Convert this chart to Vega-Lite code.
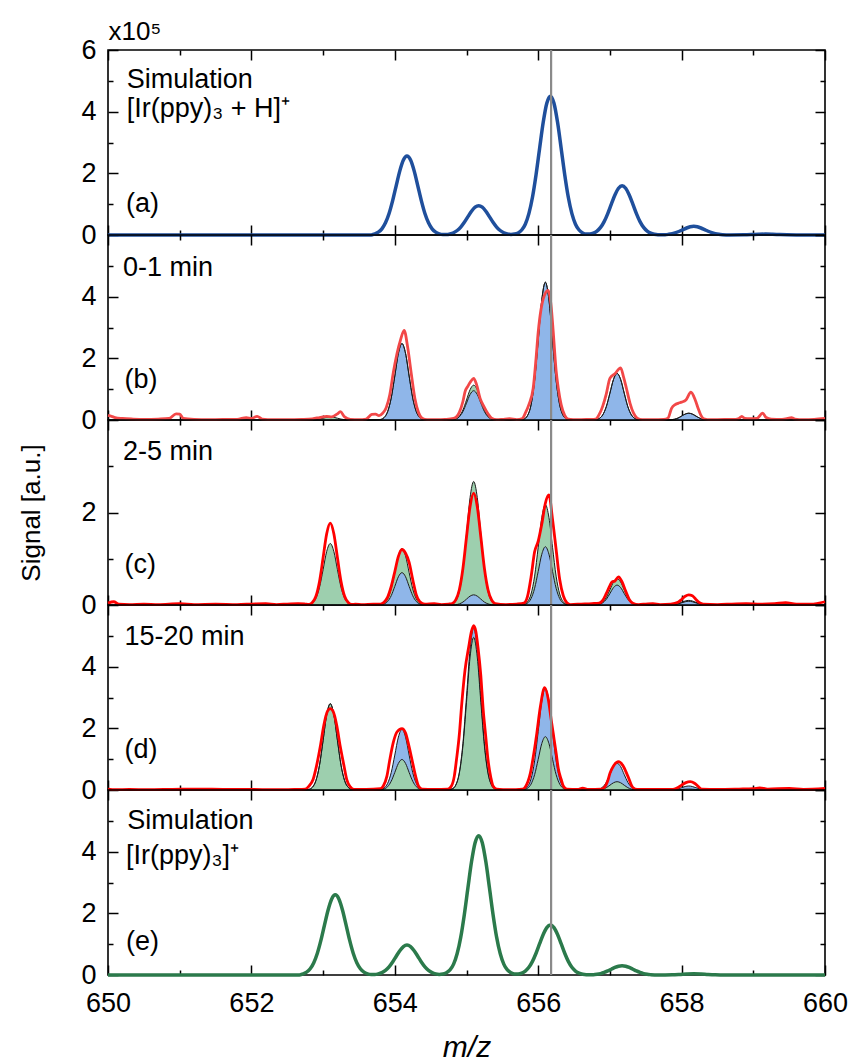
{
"$schema": "https://vega.github.io/schema/vega-lite/v6.json",
"background": "white",
"padding": {"left": 17, "top": 17, "right": 5, "bottom": 0},
"bounds": "flush",
"spacing": 0,
"config": {
  "font": "Liberation Sans",
  "view": {"stroke": "black", "strokeWidth": 1.6},
  "text": {"font": "Liberation Sans", "fontSize": 27, "color": "black"},
  "axis": {"domain": false, "grid": false, "ticks": true, "tickColor": "black", "tickWidth": 1.5, "labelFont": "Liberation Sans", "labelFontSize": 27, "labelColor": "black", "labelFlush": false, "labelOverlap": false, "titleFont": "Liberation Sans", "titleColor": "black", "titleFontWeight": "normal"}
},
"datasets": {
  "dummy": [{"mz": 650, "v": 0}],
  "gray": [{"mz": 656.18}],
  "textA": [{"label": "Simulation", "mz": 650.26, "v": 5.04}, {"label": "[Ir(ppy)₃ + H]⁺", "mz": 650.26, "v": 4.08}, {"label": "(a)", "mz": 650.25, "v": 1.0}],
  "textB": [{"label": "0-1 min", "mz": 650.21, "v": 4.92}, {"label": "(b)", "mz": 650.23, "v": 1.31}],
  "textC": [{"label": "2-5 min", "mz": 650.21, "v": 3.3}, {"label": "(c)", "mz": 650.23, "v": 0.87}],
  "textD": [{"label": "15-20 min", "mz": 650.23, "v": 4.95}, {"label": "(d)", "mz": 650.23, "v": 1.31}],
  "textE": [{"label": "Simulation", "mz": 650.27, "v": 5.0}, {"label": "[Ir(ppy)₃]⁺", "mz": 650.25, "v": 3.87}, {"label": "(e)", "mz": 650.25, "v": 1.07}],
  "simA": [
    {"mz":650,"v":0},{"mz":653.6,"v":0},{"mz":653.67,"v":0},{"mz":653.72,"v":0.038},{"mz":653.77,"v":0.092},{"mz":653.82,"v":0.2},{"mz":653.87,"v":0.394},{"mz":653.92,"v":0.696},{"mz":653.97,"v":1.114},{"mz":654.02,"v":1.603},{"mz":654.07,"v":2.079},{"mz":654.12,"v":2.429},{"mz":654.17,"v":2.56},{"mz":654.22,"v":2.429},{"mz":654.27,"v":2.079},{"mz":654.32,"v":1.603},{"mz":654.37,"v":1.114},{"mz":654.42,"v":0.696},{"mz":654.47,"v":0.394},{"mz":654.52,"v":0.2},{"mz":654.57,"v":0.092},{"mz":654.62,"v":0.038},{"mz":654.67,"v":0.015},
    {"mz":654.72,"v":0.014},{"mz":654.77,"v":0.034},{"mz":654.82,"v":0.074},{"mz":654.87,"v":0.146},{"mz":654.92,"v":0.258},{"mz":654.97,"v":0.413},{"mz":655.02,"v":0.595},{"mz":655.07,"v":0.771},{"mz":655.12,"v":0.902},{"mz":655.17,"v":0.95},{"mz":655.22,"v":0.902},{"mz":655.27,"v":0.771},{"mz":655.32,"v":0.595},{"mz":655.37,"v":0.413},{"mz":655.42,"v":0.258},{"mz":655.47,"v":0.146},{"mz":655.52,"v":0.074},{"mz":655.57,"v":0.034},{"mz":655.62,"v":0.02},{"mz":655.67,"v":0.03},
    {"mz":655.72,"v":0.068},{"mz":655.77,"v":0.162},{"mz":655.82,"v":0.351},{"mz":655.87,"v":0.693},{"mz":655.92,"v":1.224},{"mz":655.97,"v":1.958},{"mz":656.02,"v":2.817},{"mz":656.07,"v":3.654},{"mz":656.12,"v":4.271},{"mz":656.17,"v":4.5},{"mz":656.22,"v":4.271},{"mz":656.27,"v":3.654},{"mz":656.32,"v":2.817},{"mz":656.37,"v":1.958},{"mz":656.42,"v":1.224},{"mz":656.47,"v":0.693},{"mz":656.52,"v":0.351},{"mz":656.57,"v":0.162},{"mz":656.62,"v":0.068},{"mz":656.67,"v":0.03},
    {"mz":656.72,"v":0.03},{"mz":656.77,"v":0.058},{"mz":656.82,"v":0.125},{"mz":656.87,"v":0.246},{"mz":656.92,"v":0.435},{"mz":656.97,"v":0.696},{"mz":657.02,"v":1.002},{"mz":657.07,"v":1.299},{"mz":657.12,"v":1.518},{"mz":657.17,"v":1.6},{"mz":657.22,"v":1.518},{"mz":657.27,"v":1.299},{"mz":657.32,"v":1.002},{"mz":657.37,"v":0.696},{"mz":657.42,"v":0.435},{"mz":657.47,"v":0.246},{"mz":657.52,"v":0.125},{"mz":657.57,"v":0.058},{"mz":657.62,"v":0.024},{"mz":657.67,"v":0.01},
    {"mz":657.77,"v":0.01},{"mz":657.82,"v":0.022},{"mz":657.87,"v":0.043},{"mz":657.92,"v":0.076},{"mz":657.97,"v":0.122},{"mz":658.02,"v":0.175},{"mz":658.07,"v":0.227},{"mz":658.12,"v":0.266},{"mz":658.17,"v":0.28},{"mz":658.22,"v":0.266},{"mz":658.27,"v":0.227},{"mz":658.32,"v":0.175},{"mz":658.37,"v":0.122},{"mz":658.42,"v":0.076},{"mz":658.47,"v":0.043},{"mz":658.52,"v":0.022},{"mz":658.57,"v":0.01},{"mz":658.67,"v":0},
    {"mz":658.87,"v":0.005},{"mz":658.97,"v":0.013},{"mz":659.07,"v":0.024},{"mz":659.17,"v":0.03},{"mz":659.27,"v":0.024},{"mz":659.37,"v":0.013},{"mz":659.47,"v":0.005},{"mz":659.6,"v":0},{"mz":660,"v":0}
  ],
  "simE": [
    {"mz":650,"v":0},{"mz":652.6,"v":0},{"mz":652.67,"v":0},{"mz":652.72,"v":0.039},{"mz":652.77,"v":0.094},{"mz":652.82,"v":0.203},{"mz":652.87,"v":0.4},{"mz":652.92,"v":0.707},{"mz":652.97,"v":1.131},{"mz":653.02,"v":1.628},{"mz":653.07,"v":2.111},{"mz":653.12,"v":2.467},{"mz":653.17,"v":2.6},{"mz":653.22,"v":2.467},{"mz":653.27,"v":2.111},{"mz":653.32,"v":1.628},{"mz":653.37,"v":1.131},{"mz":653.42,"v":0.707},{"mz":653.47,"v":0.4},{"mz":653.52,"v":0.203},{"mz":653.57,"v":0.094},{"mz":653.62,"v":0.039},{"mz":653.67,"v":0.015},
    {"mz":653.72,"v":0.015},{"mz":653.77,"v":0.035},{"mz":653.82,"v":0.076},{"mz":653.87,"v":0.149},{"mz":653.92,"v":0.264},{"mz":653.97,"v":0.422},{"mz":654.02,"v":0.607},{"mz":654.07,"v":0.788},{"mz":654.12,"v":0.921},{"mz":654.17,"v":0.97},{"mz":654.22,"v":0.921},{"mz":654.27,"v":0.788},{"mz":654.32,"v":0.607},{"mz":654.37,"v":0.422},{"mz":654.42,"v":0.264},{"mz":654.47,"v":0.149},{"mz":654.52,"v":0.076},{"mz":654.57,"v":0.035},{"mz":654.62,"v":0.02},{"mz":654.67,"v":0.03},
    {"mz":654.72,"v":0.075},{"mz":654.77,"v":0.163},{"mz":654.82,"v":0.353},{"mz":654.87,"v":0.696},{"mz":654.92,"v":1.229},{"mz":654.97,"v":1.966},{"mz":655.02,"v":2.83},{"mz":655.07,"v":3.67},{"mz":655.12,"v":4.289},{"mz":655.17,"v":4.52},{"mz":655.22,"v":4.289},{"mz":655.27,"v":3.67},{"mz":655.32,"v":2.83},{"mz":655.37,"v":1.966},{"mz":655.42,"v":1.229},{"mz":655.47,"v":0.696},{"mz":655.52,"v":0.353},{"mz":655.57,"v":0.163},{"mz":655.62,"v":0.075},{"mz":655.67,"v":0.03},
    {"mz":655.72,"v":0.03},{"mz":655.77,"v":0.058},{"mz":655.82,"v":0.126},{"mz":655.87,"v":0.249},{"mz":655.92,"v":0.441},{"mz":655.97,"v":0.705},{"mz":656.02,"v":1.014},{"mz":656.07,"v":1.315},{"mz":656.12,"v":1.537},{"mz":656.17,"v":1.62},{"mz":656.22,"v":1.537},{"mz":656.27,"v":1.315},{"mz":656.32,"v":1.014},{"mz":656.37,"v":0.705},{"mz":656.42,"v":0.441},{"mz":656.47,"v":0.249},{"mz":656.52,"v":0.126},{"mz":656.57,"v":0.058},{"mz":656.62,"v":0.024},{"mz":656.67,"v":0.01},
    {"mz":656.77,"v":0.011},{"mz":656.82,"v":0.023},{"mz":656.87,"v":0.046},{"mz":656.92,"v":0.082},{"mz":656.97,"v":0.131},{"mz":657.02,"v":0.188},{"mz":657.07,"v":0.244},{"mz":657.12,"v":0.285},{"mz":657.17,"v":0.3},{"mz":657.22,"v":0.285},{"mz":657.27,"v":0.244},{"mz":657.32,"v":0.188},{"mz":657.37,"v":0.131},{"mz":657.42,"v":0.082},{"mz":657.47,"v":0.046},{"mz":657.52,"v":0.023},{"mz":657.57,"v":0.011},{"mz":657.67,"v":0},
    {"mz":657.87,"v":0.006},{"mz":657.97,"v":0.017},{"mz":658.07,"v":0.032},{"mz":658.17,"v":0.04},{"mz":658.27,"v":0.032},{"mz":658.37,"v":0.017},{"mz":658.47,"v":0.006},{"mz":658.6,"v":0},{"mz":660,"v":0}
  ],
  "fillB": [
    {"mz":652.7,"lo":0,"hi":0},{"mz":652.8,"lo":0,"hi":0.001},{"mz":652.85,"lo":0,"hi":0.003},{"mz":652.9,"lo":0,"hi":0.011},{"mz":652.95,"lo":0,"hi":0.029},{"mz":653.0,"lo":0,"hi":0.058},{"mz":653.05,"lo":0,"hi":0.087},{"mz":653.1,"lo":0,"hi":0.1},{"mz":653.15,"lo":0,"hi":0.087},{"mz":653.2,"lo":0,"hi":0.058},{"mz":653.25,"lo":0,"hi":0.029},{"mz":653.3,"lo":0,"hi":0.011},{"mz":653.35,"lo":0,"hi":0.003},{"mz":653.4,"lo":0,"hi":0.001},{"mz":653.5,"lo":0,"hi":0},
    {"mz":653.7,"lo":0,"hi":0},{"mz":653.8,"lo":0.017,"hi":0.017},{"mz":653.85,"lo":0.077,"hi":0.077},{"mz":653.9,"lo":0.27,"hi":0.27},{"mz":653.95,"lo":0.712,"hi":0.712},{"mz":654.0,"lo":1.426,"hi":1.426},{"mz":654.05,"lo":2.16,"hi":2.16},{"mz":654.1,"lo":2.48,"hi":2.48},{"mz":654.15,"lo":2.16,"hi":2.16},{"mz":654.2,"lo":1.426,"hi":1.426},{"mz":654.25,"lo":0.712,"hi":0.712},{"mz":654.3,"lo":0.27,"hi":0.27},{"mz":654.35,"lo":0.077,"hi":0.077},{"mz":654.4,"lo":0.017,"hi":0.017},{"mz":654.5,"lo":0,"hi":0},
    {"mz":654.7,"lo":0,"hi":0},{"mz":654.8,"lo":0.007,"hi":0.008},{"mz":654.85,"lo":0.029,"hi":0.035},{"mz":654.9,"lo":0.104,"hi":0.123},{"mz":654.95,"lo":0.273,"hi":0.324},{"mz":655.0,"lo":0.546,"hi":0.65},{"mz":655.05,"lo":0.827,"hi":0.984},{"mz":655.1,"lo":0.95,"hi":1.13},{"mz":655.15,"lo":0.827,"hi":0.984},{"mz":655.2,"lo":0.546,"hi":0.65},{"mz":655.25,"lo":0.273,"hi":0.324},{"mz":655.3,"lo":0.104,"hi":0.123},{"mz":655.35,"lo":0.029,"hi":0.035},{"mz":655.4,"lo":0.007,"hi":0.008},{"mz":655.5,"lo":0,"hi":0},
    {"mz":655.7,"lo":0,"hi":0},{"mz":655.8,"lo":0.031,"hi":0.031},{"mz":655.85,"lo":0.139,"hi":0.139},{"mz":655.9,"lo":0.487,"hi":0.487},{"mz":655.95,"lo":1.283,"hi":1.283},{"mz":656.0,"lo":2.57,"hi":2.57},{"mz":656.05,"lo":3.893,"hi":3.893},{"mz":656.1,"lo":4.47,"hi":4.47},{"mz":656.15,"lo":3.893,"hi":3.893},{"mz":656.2,"lo":2.57,"hi":2.57},{"mz":656.25,"lo":1.283,"hi":1.283},{"mz":656.3,"lo":0.487,"hi":0.487},{"mz":656.35,"lo":0.139,"hi":0.139},{"mz":656.4,"lo":0.031,"hi":0.031},{"mz":656.5,"lo":0,"hi":0},
    {"mz":656.7,"lo":0,"hi":0},{"mz":656.8,"lo":0.011,"hi":0.011},{"mz":656.85,"lo":0.047,"hi":0.047},{"mz":656.9,"lo":0.165,"hi":0.165},{"mz":656.95,"lo":0.433,"hi":0.433},{"mz":657.0,"lo":0.868,"hi":0.868},{"mz":657.05,"lo":1.315,"hi":1.315},{"mz":657.1,"lo":1.51,"hi":1.51},{"mz":657.15,"lo":1.315,"hi":1.315},{"mz":657.2,"lo":0.868,"hi":0.868},{"mz":657.25,"lo":0.433,"hi":0.433},{"mz":657.3,"lo":0.165,"hi":0.165},{"mz":657.35,"lo":0.047,"hi":0.047},{"mz":657.4,"lo":0.011,"hi":0.011},{"mz":657.5,"lo":0,"hi":0},
    {"mz":657.7,"lo":0,"hi":0},{"mz":657.8,"lo":0.002,"hi":0.002},{"mz":657.85,"lo":0.007,"hi":0.007},{"mz":657.9,"lo":0.024,"hi":0.024},{"mz":657.95,"lo":0.063,"hi":0.063},{"mz":658.0,"lo":0.127,"hi":0.127},{"mz":658.05,"lo":0.192,"hi":0.192},{"mz":658.1,"lo":0.22,"hi":0.22},{"mz":658.15,"lo":0.192,"hi":0.192},{"mz":658.2,"lo":0.127,"hi":0.127},{"mz":658.25,"lo":0.063,"hi":0.063},{"mz":658.3,"lo":0.024,"hi":0.024},{"mz":658.35,"lo":0.007,"hi":0.007},{"mz":658.4,"lo":0.002,"hi":0.002},{"mz":658.5,"lo":0,"hi":0}
  ],
  "fillC": [
    {"mz":652.7,"lo":0,"hi":0},{"mz":652.8,"lo":0,"hi":0.009},{"mz":652.85,"lo":0,"hi":0.041},{"mz":652.9,"lo":0,"hi":0.145},{"mz":652.95,"lo":0,"hi":0.382},{"mz":653.0,"lo":0,"hi":0.765},{"mz":653.05,"lo":0,"hi":1.158},{"mz":653.1,"lo":0,"hi":1.33},{"mz":653.15,"lo":0,"hi":1.158},{"mz":653.2,"lo":0,"hi":0.765},{"mz":653.25,"lo":0,"hi":0.382},{"mz":653.3,"lo":0,"hi":0.145},{"mz":653.35,"lo":0,"hi":0.041},{"mz":653.4,"lo":0,"hi":0.009},{"mz":653.5,"lo":0,"hi":0},
    {"mz":653.7,"lo":0,"hi":0},{"mz":653.8,"lo":0.005,"hi":0.009},{"mz":653.85,"lo":0.022,"hi":0.038},{"mz":653.9,"lo":0.076,"hi":0.133},{"mz":653.95,"lo":0.201,"hi":0.35},{"mz":654.0,"lo":0.403,"hi":0.702},{"mz":654.05,"lo":0.61,"hi":1.063},{"mz":654.1,"lo":0.7,"hi":1.22},{"mz":654.15,"lo":0.61,"hi":1.063},{"mz":654.2,"lo":0.403,"hi":0.702},{"mz":654.25,"lo":0.201,"hi":0.35},{"mz":654.3,"lo":0.076,"hi":0.133},{"mz":654.35,"lo":0.022,"hi":0.038},{"mz":654.4,"lo":0.005,"hi":0.009},{"mz":654.5,"lo":0,"hi":0},
    {"mz":654.7,"lo":0,"hi":0},{"mz":654.8,"lo":0.002,"hi":0.019},{"mz":654.85,"lo":0.007,"hi":0.083},{"mz":654.9,"lo":0.024,"hi":0.291},{"mz":654.95,"lo":0.063,"hi":0.766},{"mz":655.0,"lo":0.127,"hi":1.535},{"mz":655.05,"lo":0.192,"hi":2.326},{"mz":655.1,"lo":0.22,"hi":2.67},{"mz":655.15,"lo":0.192,"hi":2.326},{"mz":655.2,"lo":0.127,"hi":1.535},{"mz":655.25,"lo":0.063,"hi":0.766},{"mz":655.3,"lo":0.024,"hi":0.291},{"mz":655.35,"lo":0.007,"hi":0.083},{"mz":655.4,"lo":0.002,"hi":0.019},{"mz":655.5,"lo":0,"hi":0},
    {"mz":655.7,"lo":0,"hi":0},{"mz":655.8,"lo":0.009,"hi":0.015},{"mz":655.85,"lo":0.039,"hi":0.067},{"mz":655.9,"lo":0.137,"hi":0.237},{"mz":655.95,"lo":0.362,"hi":0.623},{"mz":656.0,"lo":0.725,"hi":1.248},{"mz":656.05,"lo":1.097,"hi":1.89},{"mz":656.1,"lo":1.26,"hi":2.17},{"mz":656.15,"lo":1.097,"hi":1.89},{"mz":656.2,"lo":0.725,"hi":1.248},{"mz":656.25,"lo":0.362,"hi":0.623},{"mz":656.3,"lo":0.137,"hi":0.237},{"mz":656.35,"lo":0.039,"hi":0.067},{"mz":656.4,"lo":0.009,"hi":0.015},{"mz":656.5,"lo":0,"hi":0},
    {"mz":656.7,"lo":0,"hi":0},{"mz":656.8,"lo":0.003,"hi":0.004},{"mz":656.85,"lo":0.013,"hi":0.018},{"mz":656.9,"lo":0.047,"hi":0.062},{"mz":656.95,"lo":0.123,"hi":0.164},{"mz":657.0,"lo":0.247,"hi":0.328},{"mz":657.05,"lo":0.375,"hi":0.496},{"mz":657.1,"lo":0.43,"hi":0.57},{"mz":657.15,"lo":0.375,"hi":0.496},{"mz":657.2,"lo":0.247,"hi":0.328},{"mz":657.25,"lo":0.123,"hi":0.164},{"mz":657.3,"lo":0.047,"hi":0.062},{"mz":657.35,"lo":0.013,"hi":0.018},{"mz":657.4,"lo":0.003,"hi":0.004},{"mz":657.5,"lo":0,"hi":0},
    {"mz":657.7,"lo":0,"hi":0},{"mz":657.8,"lo":0.001,"hi":0.001},{"mz":657.85,"lo":0.002,"hi":0.003},{"mz":657.9,"lo":0.009,"hi":0.011},{"mz":657.95,"lo":0.023,"hi":0.029},{"mz":658.0,"lo":0.046,"hi":0.058},{"mz":658.05,"lo":0.07,"hi":0.087},{"mz":658.1,"lo":0.08,"hi":0.1},{"mz":658.15,"lo":0.07,"hi":0.087},{"mz":658.2,"lo":0.046,"hi":0.058},{"mz":658.25,"lo":0.023,"hi":0.029},{"mz":658.3,"lo":0.009,"hi":0.011},{"mz":658.35,"lo":0.002,"hi":0.003},{"mz":658.4,"lo":0.001,"hi":0.001},{"mz":658.5,"lo":0,"hi":0}
  ],
  "fillD": [
    {"mz":652.7,"lo":0,"hi":0},{"mz":652.8,"lo":0.02,"hi":0.02},{"mz":652.85,"lo":0.087,"hi":0.087},{"mz":652.9,"lo":0.305,"hi":0.305},{"mz":652.95,"lo":0.804,"hi":0.804},{"mz":653.0,"lo":1.61,"hi":1.61},{"mz":653.05,"lo":2.439,"hi":2.439},{"mz":653.1,"lo":2.8,"hi":2.8},{"mz":653.15,"lo":2.439,"hi":2.439},{"mz":653.2,"lo":1.61,"hi":1.61},{"mz":653.25,"lo":0.804,"hi":0.804},{"mz":653.3,"lo":0.305,"hi":0.305},{"mz":653.35,"lo":0.087,"hi":0.087},{"mz":653.4,"lo":0.02,"hi":0.02},{"mz":653.5,"lo":0,"hi":0},
    {"mz":653.7,"lo":0,"hi":0},{"mz":653.8,"lo":0.007,"hi":0.014},{"mz":653.85,"lo":0.031,"hi":0.061},{"mz":653.9,"lo":0.108,"hi":0.215},{"mz":653.95,"lo":0.284,"hi":0.565},{"mz":654.0,"lo":0.569,"hi":1.133},{"mz":654.05,"lo":0.862,"hi":1.716},{"mz":654.1,"lo":0.99,"hi":1.97},{"mz":654.15,"lo":0.862,"hi":1.716},{"mz":654.2,"lo":0.569,"hi":1.133},{"mz":654.25,"lo":0.284,"hi":0.565},{"mz":654.3,"lo":0.108,"hi":0.215},{"mz":654.35,"lo":0.031,"hi":0.061},{"mz":654.4,"lo":0.007,"hi":0.014},{"mz":654.5,"lo":0,"hi":0},
    {"mz":654.7,"lo":0,"hi":0},{"mz":654.8,"lo":0.035,"hi":0.037},{"mz":654.85,"lo":0.153,"hi":0.163},{"mz":654.9,"lo":0.54,"hi":0.572},{"mz":654.95,"lo":1.421,"hi":1.507},{"mz":655.0,"lo":2.846,"hi":3.019},{"mz":655.05,"lo":4.311,"hi":4.573},{"mz":655.1,"lo":4.95,"hi":5.25},{"mz":655.15,"lo":4.311,"hi":4.573},{"mz":655.2,"lo":2.846,"hi":3.019},{"mz":655.25,"lo":1.421,"hi":1.507},{"mz":655.3,"lo":0.54,"hi":0.572},{"mz":655.35,"lo":0.153,"hi":0.163},{"mz":655.4,"lo":0.035,"hi":0.037},{"mz":655.5,"lo":0,"hi":0},
    {"mz":655.7,"lo":0,"hi":0},{"mz":655.8,"lo":0.012,"hi":0.023},{"mz":655.85,"lo":0.054,"hi":0.102},{"mz":655.9,"lo":0.189,"hi":0.36},{"mz":655.95,"lo":0.497,"hi":0.947},{"mz":656.0,"lo":0.995,"hi":1.898},{"mz":656.05,"lo":1.507,"hi":2.874},{"mz":656.1,"lo":1.73,"hi":3.3},{"mz":656.15,"lo":1.507,"hi":2.874},{"mz":656.2,"lo":0.995,"hi":1.898},{"mz":656.25,"lo":0.497,"hi":0.947},{"mz":656.3,"lo":0.189,"hi":0.36},{"mz":656.35,"lo":0.054,"hi":0.102},{"mz":656.4,"lo":0.012,"hi":0.023},{"mz":656.5,"lo":0,"hi":0},
    {"mz":656.7,"lo":0,"hi":0},{"mz":656.8,"lo":0.002,"hi":0.006},{"mz":656.85,"lo":0.008,"hi":0.027},{"mz":656.9,"lo":0.029,"hi":0.095},{"mz":656.95,"lo":0.077,"hi":0.25},{"mz":657.0,"lo":0.155,"hi":0.5},{"mz":657.05,"lo":0.235,"hi":0.758},{"mz":657.1,"lo":0.27,"hi":0.87},{"mz":657.15,"lo":0.235,"hi":0.758},{"mz":657.2,"lo":0.155,"hi":0.5},{"mz":657.25,"lo":0.077,"hi":0.25},{"mz":657.3,"lo":0.029,"hi":0.095},{"mz":657.35,"lo":0.008,"hi":0.027},{"mz":657.4,"lo":0.002,"hi":0.006},{"mz":657.5,"lo":0,"hi":0},
    {"mz":657.7,"lo":0,"hi":0},{"mz":657.8,"lo":0,"hi":0.001},{"mz":657.85,"lo":0.001,"hi":0.004},{"mz":657.9,"lo":0.003,"hi":0.014},{"mz":657.95,"lo":0.009,"hi":0.037},{"mz":658.0,"lo":0.017,"hi":0.075},{"mz":658.05,"lo":0.026,"hi":0.113},{"mz":658.1,"lo":0.03,"hi":0.13},{"mz":658.15,"lo":0.026,"hi":0.113},{"mz":658.2,"lo":0.017,"hi":0.075},{"mz":658.25,"lo":0.009,"hi":0.037},{"mz":658.3,"lo":0.003,"hi":0.014},{"mz":658.35,"lo":0.001,"hi":0.004},{"mz":658.4,"lo":0,"hi":0.001},{"mz":658.5,"lo":0,"hi":0}
  ],
  "redB": [
    {"mz":650.0,"v":0.15},{"mz":650.05,"v":0.12},{"mz":650.1,"v":0.08},{"mz":650.2,"v":0.05},{"mz":650.35,"v":0.03},{"mz":650.5,"v":0.02},{"mz":650.7,"v":0.03},{"mz":650.85,"v":0.05},{"mz":650.95,"v":0.2},{"mz":651.0,"v":0.19},{"mz":651.05,"v":0.05},{"mz":651.2,"v":0.02},{"mz":651.4,"v":0.01},{"mz":651.6,"v":0.02},{"mz":651.8,"v":0.02},{"mz":651.93,"v":0.08},{"mz":652.0,"v":0.05},{"mz":652.08,"v":0.12},{"mz":652.15,"v":0.03},{"mz":652.3,"v":0.01},{"mz":652.5,"v":0.01},{"mz":652.7,"v":0.02},{"mz":652.85,"v":0.04},{"mz":652.95,"v":0.08},{"mz":653.05,"v":0.12},{"mz":653.12,"v":0.1},{"mz":653.2,"v":0.2},{"mz":653.24,"v":0.27},{"mz":653.3,"v":0.1},{"mz":653.38,"v":0.02},{"mz":653.5,"v":0.01},{"mz":653.6,"v":0.03},{"mz":653.68,"v":0.18},{"mz":653.73,"v":0.19},{"mz":653.78,"v":0.14},{"mz":653.83,"v":0.22},{"mz":653.88,"v":0.4},{"mz":653.93,"v":0.82},{"mz":653.98,"v":1.55},{"mz":654.03,"v":2.15},{"mz":654.08,"v":2.6},{"mz":654.13,"v":2.91},{"mz":654.18,"v":2.35},{"mz":654.23,"v":1.5},{"mz":654.28,"v":0.7},{"mz":654.33,"v":0.25},{"mz":654.38,"v":0.06},{"mz":654.45,"v":0.01},{"mz":654.6,"v":0.01},{"mz":654.7,"v":0.02},{"mz":654.82,"v":0.05},{"mz":654.9,"v":0.25},{"mz":654.95,"v":0.6},{"mz":654.98,"v":0.92},{"mz":655.02,"v":1.1},{"mz":655.06,"v":1.25},{"mz":655.1,"v":1.35},{"mz":655.14,"v":1.15},{"mz":655.19,"v":0.7},{"mz":655.24,"v":0.45},{"mz":655.3,"v":0.2},{"mz":655.35,"v":0.06},{"mz":655.42,"v":0.01},{"mz":655.5,"v":0.02},{"mz":655.6,"v":0.04},{"mz":655.7,"v":0.01},{"mz":655.78,"v":0.05},{"mz":655.82,"v":0.22},{"mz":655.87,"v":0.5},{"mz":655.93,"v":1.03},{"mz":655.97,"v":2.0},{"mz":656.0,"v":2.85},{"mz":656.04,"v":3.6},{"mz":656.07,"v":3.93},{"mz":656.14,"v":4.2},{"mz":656.18,"v":3.7},{"mz":656.21,"v":2.85},{"mz":656.25,"v":1.6},{"mz":656.28,"v":1.03},{"mz":656.32,"v":0.5},{"mz":656.37,"v":0.15},{"mz":656.42,"v":0.03},{"mz":656.55,"v":0.01},{"mz":656.7,"v":0.02},{"mz":656.8,"v":0.03},{"mz":656.86,"v":0.22},{"mz":656.9,"v":0.45},{"mz":656.95,"v":0.85},{"mz":657.0,"v":1.35},{"mz":657.07,"v":1.5},{"mz":657.15,"v":1.69},{"mz":657.19,"v":1.4},{"mz":657.23,"v":1.03},{"mz":657.28,"v":0.55},{"mz":657.33,"v":0.22},{"mz":657.38,"v":0.06},{"mz":657.45,"v":0.01},{"mz":657.6,"v":0.01},{"mz":657.75,"v":0.02},{"mz":657.81,"v":0.06},{"mz":657.86,"v":0.38},{"mz":657.91,"v":0.5},{"mz":657.95,"v":0.54},{"mz":658.0,"v":0.58},{"mz":658.06,"v":0.65},{"mz":658.13,"v":0.9},{"mz":658.19,"v":0.65},{"mz":658.23,"v":0.38},{"mz":658.27,"v":0.15},{"mz":658.31,"v":0.04},{"mz":658.4,"v":0.01},{"mz":658.6,"v":0.02},{"mz":658.75,"v":0.02},{"mz":658.8,"v":0.05},{"mz":658.84,"v":0.12},{"mz":658.88,"v":0.05},{"mz":658.95,"v":0.04},{"mz":659.05,"v":0.05},{"mz":659.13,"v":0.22},{"mz":659.18,"v":0.08},{"mz":659.25,"v":0.03},{"mz":659.4,"v":0.02},{"mz":659.48,"v":0.05},{"mz":659.53,"v":0.08},{"mz":659.58,"v":0.03},{"mz":659.7,"v":0.01},{"mz":659.85,"v":0.02},{"mz":660.0,"v":0.05}
  ],
  "redC": [
    {"mz":650.0,"v":0.04},{"mz":650.08,"v":0.07},{"mz":650.15,"v":0.02},{"mz":650.3,"v":0.01},{"mz":650.5,"v":0.02},{"mz":650.7,"v":0.01},{"mz":651.0,"v":0.03},{"mz":651.2,"v":0.01},{"mz":651.5,"v":0.02},{"mz":651.8,"v":0.01},{"mz":652.0,"v":0.02},{"mz":652.2,"v":0.03},{"mz":652.35,"v":0.01},{"mz":652.5,"v":0.02},{"mz":652.65,"v":0.03},{"mz":652.75,"v":0.02},{"mz":652.8,"v":0.012},{"mz":652.85,"v":0.055},{"mz":652.9,"v":0.19},{"mz":652.95,"v":0.51},{"mz":653.0,"v":1.02},{"mz":653.05,"v":1.54},{"mz":653.1,"v":1.77},{"mz":653.15,"v":1.54},{"mz":653.2,"v":1.02},{"mz":653.25,"v":0.51},{"mz":653.3,"v":0.19},{"mz":653.35,"v":0.055},{"mz":653.4,"v":0.012},{"mz":653.45,"v":0.02},{"mz":653.55,"v":0.01},{"mz":653.7,"v":0.02},{"mz":653.8,"v":0.02},{"mz":653.85,"v":0.06},{"mz":653.9,"v":0.17},{"mz":653.95,"v":0.4},{"mz":654.0,"v":0.72},{"mz":654.05,"v":1.05},{"mz":654.1,"v":1.2},{"mz":654.15,"v":1.12},{"mz":654.2,"v":0.92},{"mz":654.25,"v":0.55},{"mz":654.3,"v":0.22},{"mz":654.35,"v":0.07},{"mz":654.42,"v":0.02},{"mz":654.55,"v":0.03},{"mz":654.65,"v":0.01},{"mz":654.75,"v":0.02},{"mz":654.8,"v":0.03},{"mz":654.85,"v":0.11},{"mz":654.9,"v":0.33},{"mz":654.95,"v":0.79},{"mz":655.0,"v":1.47},{"mz":655.05,"v":2.13},{"mz":655.1,"v":2.42},{"mz":655.15,"v":2.13},{"mz":655.2,"v":1.47},{"mz":655.25,"v":0.79},{"mz":655.3,"v":0.33},{"mz":655.35,"v":0.11},{"mz":655.4,"v":0.03},{"mz":655.55,"v":0.01},{"mz":655.7,"v":0.02},{"mz":655.8,"v":0.04},{"mz":655.85,"v":0.18},{"mz":655.9,"v":0.6},{"mz":655.95,"v":1.15},{"mz":656.0,"v":1.38},{"mz":656.05,"v":1.75},{"mz":656.1,"v":2.2},{"mz":656.15,"v":2.38},{"mz":656.2,"v":1.85},{"mz":656.25,"v":1.2},{"mz":656.3,"v":0.55},{"mz":656.35,"v":0.2},{"mz":656.4,"v":0.05},{"mz":656.45,"v":0.01},{"mz":656.6,"v":0.02},{"mz":656.75,"v":0.03},{"mz":656.85,"v":0.04},{"mz":656.9,"v":0.1},{"mz":656.95,"v":0.25},{"mz":657.0,"v":0.42},{"mz":657.03,"v":0.5},{"mz":657.07,"v":0.52},{"mz":657.12,"v":0.61},{"mz":657.17,"v":0.5},{"mz":657.22,"v":0.3},{"mz":657.27,"v":0.12},{"mz":657.32,"v":0.04},{"mz":657.4,"v":0.01},{"mz":657.5,"v":0.02},{"mz":657.6,"v":0.03},{"mz":657.7,"v":0.01},{"mz":657.85,"v":0.02},{"mz":657.95,"v":0.06},{"mz":658.0,"v":0.12},{"mz":658.05,"v":0.19},{"mz":658.1,"v":0.22},{"mz":658.15,"v":0.2},{"mz":658.2,"v":0.12},{"mz":658.25,"v":0.05},{"mz":658.3,"v":0.02},{"mz":658.5,"v":0.01},{"mz":658.7,"v":0.02},{"mz":658.9,"v":0.03},{"mz":659.1,"v":0.02},{"mz":659.3,"v":0.03},{"mz":659.45,"v":0.05},{"mz":659.6,"v":0.02},{"mz":659.8,"v":0.02},{"mz":660.0,"v":0.07}
  ],
  "redD": [
    {"mz":650.0,"v":0.03},{"mz":650.1,"v":0.01},{"mz":650.3,"v":0.02},{"mz":650.55,"v":0.01},{"mz":650.9,"v":0.02},{"mz":651.3,"v":0.03},{"mz":651.6,"v":0.02},{"mz":652.0,"v":0.02},{"mz":652.3,"v":0.01},{"mz":652.6,"v":0.02},{"mz":652.75,"v":0.03},{"mz":652.8,"v":0.12},{"mz":652.86,"v":0.34},{"mz":652.91,"v":0.8},{"mz":652.96,"v":1.4},{"mz":653.01,"v":2.1},{"mz":653.06,"v":2.55},{"mz":653.1,"v":2.64},{"mz":653.14,"v":2.55},{"mz":653.19,"v":2.1},{"mz":653.24,"v":1.4},{"mz":653.29,"v":0.8},{"mz":653.33,"v":0.34},{"mz":653.38,"v":0.1},{"mz":653.43,"v":0.02},{"mz":653.6,"v":0.02},{"mz":653.8,"v":0.04},{"mz":653.84,"v":0.13},{"mz":653.89,"v":0.45},{"mz":653.93,"v":0.98},{"mz":653.98,"v":1.55},{"mz":654.03,"v":1.88},{"mz":654.1,"v":1.99},{"mz":654.15,"v":1.85},{"mz":654.2,"v":1.4},{"mz":654.24,"v":0.98},{"mz":654.29,"v":0.45},{"mz":654.33,"v":0.13},{"mz":654.38,"v":0.03},{"mz":654.55,"v":0.02},{"mz":654.74,"v":0.03},{"mz":654.79,"v":0.13},{"mz":654.83,"v":0.45},{"mz":654.86,"v":0.98},{"mz":654.9,"v":1.8},{"mz":654.93,"v":2.69},{"mz":654.98,"v":3.9},{"mz":655.03,"v":4.63},{"mz":655.07,"v":5.15},{"mz":655.1,"v":5.33},{"mz":655.13,"v":5.15},{"mz":655.16,"v":4.63},{"mz":655.2,"v":3.7},{"mz":655.23,"v":2.69},{"mz":655.27,"v":1.7},{"mz":655.3,"v":0.98},{"mz":655.34,"v":0.4},{"mz":655.37,"v":0.13},{"mz":655.42,"v":0.03},{"mz":655.6,"v":0.01},{"mz":655.78,"v":0.03},{"mz":655.82,"v":0.1},{"mz":655.89,"v":0.54},{"mz":655.94,"v":1.2},{"mz":655.98,"v":1.83},{"mz":656.03,"v":2.7},{"mz":656.09,"v":3.32},{"mz":656.14,"v":2.95},{"mz":656.18,"v":2.3},{"mz":656.21,"v":1.83},{"mz":656.25,"v":1.2},{"mz":656.28,"v":0.7},{"mz":656.32,"v":0.35},{"mz":656.35,"v":0.13},{"mz":656.4,"v":0.03},{"mz":656.55,"v":0.02},{"mz":656.62,"v":0.06},{"mz":656.7,"v":0.02},{"mz":656.88,"v":0.03},{"mz":656.93,"v":0.1},{"mz":656.97,"v":0.3},{"mz":657.0,"v":0.54},{"mz":657.05,"v":0.78},{"mz":657.12,"v":0.92},{"mz":657.18,"v":0.8},{"mz":657.25,"v":0.45},{"mz":657.32,"v":0.08},{"mz":657.38,"v":0.02},{"mz":657.6,"v":0.02},{"mz":657.88,"v":0.02},{"mz":657.95,"v":0.08},{"mz":658.0,"v":0.16},{"mz":658.06,"v":0.24},{"mz":658.12,"v":0.27},{"mz":658.18,"v":0.22},{"mz":658.23,"v":0.12},{"mz":658.28,"v":0.03},{"mz":658.5,"v":0.02},{"mz":658.8,"v":0.03},{"mz":659.0,"v":0.04},{"mz":659.09,"v":0.07},{"mz":659.2,"v":0.03},{"mz":659.5,"v":0.05},{"mz":659.7,"v":0.02},{"mz":660.0,"v":0.05}
  ]
},
"vconcat": [
  {
    "width": 717, "height": 185,
    "resolve": {"axis": {"x": "independent", "y": "independent"}},
    "encoding": {"x": {"field": "mz", "type": "quantitative", "scale": {"domain": [650, 660], "nice": false, "zero": false}, "axis": null}},
    "layer": [
      {"data": {"name": "simA"}, "mark": {"type": "line", "interpolate": "monotone", "color": "#1f4f9c", "strokeWidth": 3.5}, "encoding": {"y": {"field": "v", "type": "quantitative", "scale": {"domain": [0, 6], "nice": false}, "axis": null}}},
      {"data": {"name": "gray"}, "mark": {"type": "rule", "color": "#8a8a8a", "strokeWidth": 2.2}, "encoding": {}},
      {"data": {"name": "textA"}, "mark": {"type": "text", "align": "left", "baseline": "middle", "fontSize": 27}, "encoding": {"y": {"field": "v", "type": "quantitative", "scale": {"domain": [0, 6], "nice": false}, "axis": null}, "text": {"field": "label"}}},
      {"data": {"name": "dummy"}, "mark": {"type": "point", "opacity": 0}, "encoding": {
        "x": {"field": "mz", "type": "quantitative", "scale": {"domain": [650, 660], "nice": false, "zero": false}, "axis": {"orient": "bottom", "values": [650, 652, 654, 656, 658, 660], "tickSize": -10, "labels": false, "title": null}},
        "y": {"field": "v", "type": "quantitative", "scale": {"domain": [0, 6], "nice": false}, "axis": {"orient": "left", "values": [0, 2, 4, 6], "tickSize": -10, "labelPadding": 22, "title": "x10⁵", "titleAngle": 0, "titleAlign": "left", "titleBaseline": "alphabetic", "titleX": 0, "titleY": -11, "titleFontSize": 26}}}},
      {"data": {"name": "dummy"}, "mark": {"type": "point", "opacity": 0}, "encoding": {
        "x": {"field": "mz", "type": "quantitative", "scale": {"domain": [650, 660], "nice": false, "zero": false}, "axis": {"orient": "bottom", "values": [651, 653, 655, 657, 659], "tickSize": -5, "labels": false, "title": null}},
        "y": {"field": "v", "type": "quantitative", "scale": {"domain": [0, 6], "nice": false}, "axis": {"orient": "left", "values": [1, 3, 5], "tickSize": -5, "labels": false, "title": null}}}},
      {"data": {"name": "dummy"}, "mark": {"type": "point", "opacity": 0}, "encoding": {
        "x": {"field": "mz", "type": "quantitative", "scale": {"domain": [650, 660], "nice": false, "zero": false}, "axis": {"orient": "top", "values": [650, 652, 654, 656, 658, 660], "tickSize": -10, "labels": false, "title": null}},
        "y": {"field": "v", "type": "quantitative", "scale": {"domain": [0, 6], "nice": false}, "axis": {"orient": "right", "values": [0, 2, 4, 6], "tickSize": -10, "labels": false, "title": null}}}},
      {"data": {"name": "dummy"}, "mark": {"type": "point", "opacity": 0}, "encoding": {
        "x": {"field": "mz", "type": "quantitative", "scale": {"domain": [650, 660], "nice": false, "zero": false}, "axis": {"orient": "top", "values": [651, 653, 655, 657, 659], "tickSize": -5, "labels": false, "title": null}},
        "y": {"field": "v", "type": "quantitative", "scale": {"domain": [0, 6], "nice": false}, "axis": {"orient": "right", "values": [1, 3, 5], "tickSize": -5, "labels": false, "title": null}}}}
    ]
  },
  {
    "width": 717, "height": 185,
    "resolve": {"axis": {"x": "independent", "y": "independent"}},
    "encoding": {"x": {"field": "mz", "type": "quantitative", "scale": {"domain": [650, 660], "nice": false, "zero": false}, "axis": null}},
    "layer": [
      {"data": {"name": "fillB"}, "mark": {"type": "area", "interpolate": "monotone", "color": "#8fb6e9"}, "encoding": {"y": {"field": "lo", "type": "quantitative", "stack": null, "scale": {"domain": [0, 6], "nice": false}, "axis": null}}},
      {"data": {"name": "fillB"}, "mark": {"type": "area", "interpolate": "monotone", "color": "#9dcfae"}, "encoding": {"y": {"field": "hi", "type": "quantitative", "stack": null, "scale": {"domain": [0, 6], "nice": false}, "axis": null}, "y2": {"field": "lo"}}},
      {"data": {"name": "fillB"}, "mark": {"type": "line", "interpolate": "monotone", "color": "#1a1a1a", "strokeWidth": 1}, "encoding": {"y": {"field": "lo", "type": "quantitative", "scale": {"domain": [0, 6], "nice": false}, "axis": null}}},
      {"data": {"name": "fillB"}, "mark": {"type": "line", "interpolate": "monotone", "color": "#1a1a1a", "strokeWidth": 1}, "encoding": {"y": {"field": "hi", "type": "quantitative", "scale": {"domain": [0, 6], "nice": false}, "axis": null}}},
      {"data": {"name": "redB"}, "mark": {"type": "line", "interpolate": "monotone", "color": "#f24848", "strokeWidth": 2.8}, "encoding": {"y": {"field": "v", "type": "quantitative", "scale": {"domain": [0, 6], "nice": false}, "axis": null}}},
      {"data": {"name": "gray"}, "mark": {"type": "rule", "color": "#8a8a8a", "strokeWidth": 2.2}, "encoding": {}},
      {"data": {"name": "textB"}, "mark": {"type": "text", "align": "left", "baseline": "middle", "fontSize": 27}, "encoding": {"y": {"field": "v", "type": "quantitative", "scale": {"domain": [0, 6], "nice": false}, "axis": null}, "text": {"field": "label"}}},
      {"data": {"name": "dummy"}, "mark": {"type": "point", "opacity": 0}, "encoding": {
        "x": {"field": "mz", "type": "quantitative", "scale": {"domain": [650, 660], "nice": false, "zero": false}, "axis": {"orient": "bottom", "values": [650, 652, 654, 656, 658, 660], "tickSize": -10, "labels": false, "title": null}},
        "y": {"field": "v", "type": "quantitative", "scale": {"domain": [0, 6], "nice": false}, "axis": {"orient": "left", "values": [0, 2, 4], "tickSize": -10, "labelPadding": 22, "title": null}}}},
      {"data": {"name": "dummy"}, "mark": {"type": "point", "opacity": 0}, "encoding": {
        "x": {"field": "mz", "type": "quantitative", "scale": {"domain": [650, 660], "nice": false, "zero": false}, "axis": {"orient": "bottom", "values": [651, 653, 655, 657, 659], "tickSize": -5, "labels": false, "title": null}},
        "y": {"field": "v", "type": "quantitative", "scale": {"domain": [0, 6], "nice": false}, "axis": {"orient": "left", "values": [1, 3, 5], "tickSize": -5, "labels": false, "title": null}}}},
      {"data": {"name": "dummy"}, "mark": {"type": "point", "opacity": 0}, "encoding": {
        "x": {"field": "mz", "type": "quantitative", "scale": {"domain": [650, 660], "nice": false, "zero": false}, "axis": {"orient": "top", "values": [650, 652, 654, 656, 658, 660], "tickSize": -10, "labels": false, "title": null}},
        "y": {"field": "v", "type": "quantitative", "scale": {"domain": [0, 6], "nice": false}, "axis": {"orient": "right", "values": [0, 2, 4, 6], "tickSize": -10, "labels": false, "title": null}}}},
      {"data": {"name": "dummy"}, "mark": {"type": "point", "opacity": 0}, "encoding": {
        "x": {"field": "mz", "type": "quantitative", "scale": {"domain": [650, 660], "nice": false, "zero": false}, "axis": {"orient": "top", "values": [651, 653, 655, 657, 659], "tickSize": -5, "labels": false, "title": null}},
        "y": {"field": "v", "type": "quantitative", "scale": {"domain": [0, 6], "nice": false}, "axis": {"orient": "right", "values": [1, 3, 5], "tickSize": -5, "labels": false, "title": null}}}}
    ]
  },
  {
    "width": 717, "height": 185,
    "resolve": {"axis": {"x": "independent", "y": "independent"}},
    "encoding": {"x": {"field": "mz", "type": "quantitative", "scale": {"domain": [650, 660], "nice": false, "zero": false}, "axis": null}},
    "layer": [
      {"data": {"name": "fillC"}, "mark": {"type": "area", "interpolate": "monotone", "color": "#8fb6e9"}, "encoding": {"y": {"field": "lo", "type": "quantitative", "stack": null, "scale": {"domain": [0, 4], "nice": false}, "axis": null}}},
      {"data": {"name": "fillC"}, "mark": {"type": "area", "interpolate": "monotone", "color": "#9dcfae"}, "encoding": {"y": {"field": "hi", "type": "quantitative", "stack": null, "scale": {"domain": [0, 4], "nice": false}, "axis": null}, "y2": {"field": "lo"}}},
      {"data": {"name": "fillC"}, "mark": {"type": "line", "interpolate": "monotone", "color": "#1a1a1a", "strokeWidth": 1}, "encoding": {"y": {"field": "lo", "type": "quantitative", "scale": {"domain": [0, 4], "nice": false}, "axis": null}}},
      {"data": {"name": "fillC"}, "mark": {"type": "line", "interpolate": "monotone", "color": "#1a1a1a", "strokeWidth": 1}, "encoding": {"y": {"field": "hi", "type": "quantitative", "scale": {"domain": [0, 4], "nice": false}, "axis": null}}},
      {"data": {"name": "redC"}, "mark": {"type": "line", "interpolate": "monotone", "color": "#ff0000", "strokeWidth": 2.8}, "encoding": {"y": {"field": "v", "type": "quantitative", "scale": {"domain": [0, 4], "nice": false}, "axis": null}}},
      {"data": {"name": "gray"}, "mark": {"type": "rule", "color": "#8a8a8a", "strokeWidth": 2.2}, "encoding": {}},
      {"data": {"name": "textC"}, "mark": {"type": "text", "align": "left", "baseline": "middle", "fontSize": 27}, "encoding": {"y": {"field": "v", "type": "quantitative", "scale": {"domain": [0, 4], "nice": false}, "axis": null}, "text": {"field": "label"}}},
      {"data": {"name": "dummy"}, "mark": {"type": "point", "opacity": 0}, "encoding": {
        "x": {"field": "mz", "type": "quantitative", "scale": {"domain": [650, 660], "nice": false, "zero": false}, "axis": {"orient": "bottom", "values": [650, 652, 654, 656, 658, 660], "tickSize": -10, "labels": false, "title": null}},
        "y": {"field": "v", "type": "quantitative", "scale": {"domain": [0, 4], "nice": false}, "axis": {"orient": "left", "values": [0, 2], "tickSize": -10, "labelPadding": 22, "title": "Signal [a.u.]", "titleFontSize": 26, "titleAngle": 270, "titleAlign": "center", "titleBaseline": "middle", "titleX": -77, "titleY": 92.5}}}},
      {"data": {"name": "dummy"}, "mark": {"type": "point", "opacity": 0}, "encoding": {
        "x": {"field": "mz", "type": "quantitative", "scale": {"domain": [650, 660], "nice": false, "zero": false}, "axis": {"orient": "bottom", "values": [651, 653, 655, 657, 659], "tickSize": -5, "labels": false, "title": null}},
        "y": {"field": "v", "type": "quantitative", "scale": {"domain": [0, 4], "nice": false}, "axis": {"orient": "left", "values": [1, 3], "tickSize": -5, "labels": false, "title": null}}}},
      {"data": {"name": "dummy"}, "mark": {"type": "point", "opacity": 0}, "encoding": {
        "x": {"field": "mz", "type": "quantitative", "scale": {"domain": [650, 660], "nice": false, "zero": false}, "axis": {"orient": "top", "values": [650, 652, 654, 656, 658, 660], "tickSize": -10, "labels": false, "title": null}},
        "y": {"field": "v", "type": "quantitative", "scale": {"domain": [0, 4], "nice": false}, "axis": {"orient": "right", "values": [0, 2, 4], "tickSize": -10, "labels": false, "title": null}}}},
      {"data": {"name": "dummy"}, "mark": {"type": "point", "opacity": 0}, "encoding": {
        "x": {"field": "mz", "type": "quantitative", "scale": {"domain": [650, 660], "nice": false, "zero": false}, "axis": {"orient": "top", "values": [651, 653, 655, 657, 659], "tickSize": -5, "labels": false, "title": null}},
        "y": {"field": "v", "type": "quantitative", "scale": {"domain": [0, 4], "nice": false}, "axis": {"orient": "right", "values": [1, 3], "tickSize": -5, "labels": false, "title": null}}}}
    ]
  },
  {
    "width": 717, "height": 185,
    "resolve": {"axis": {"x": "independent", "y": "independent"}},
    "encoding": {"x": {"field": "mz", "type": "quantitative", "scale": {"domain": [650, 660], "nice": false, "zero": false}, "axis": null}},
    "layer": [
      {"data": {"name": "fillD"}, "mark": {"type": "area", "interpolate": "monotone", "color": "#9dcfae"}, "encoding": {"y": {"field": "lo", "type": "quantitative", "stack": null, "scale": {"domain": [0, 6], "nice": false}, "axis": null}}},
      {"data": {"name": "fillD"}, "mark": {"type": "area", "interpolate": "monotone", "color": "#8fb6e9"}, "encoding": {"y": {"field": "hi", "type": "quantitative", "stack": null, "scale": {"domain": [0, 6], "nice": false}, "axis": null}, "y2": {"field": "lo"}}},
      {"data": {"name": "fillD"}, "mark": {"type": "line", "interpolate": "monotone", "color": "#1a1a1a", "strokeWidth": 1}, "encoding": {"y": {"field": "lo", "type": "quantitative", "scale": {"domain": [0, 6], "nice": false}, "axis": null}}},
      {"data": {"name": "fillD"}, "mark": {"type": "line", "interpolate": "monotone", "color": "#1a1a1a", "strokeWidth": 1}, "encoding": {"y": {"field": "hi", "type": "quantitative", "scale": {"domain": [0, 6], "nice": false}, "axis": null}}},
      {"data": {"name": "redD"}, "mark": {"type": "line", "interpolate": "monotone", "color": "#ff0000", "strokeWidth": 2.8}, "encoding": {"y": {"field": "v", "type": "quantitative", "scale": {"domain": [0, 6], "nice": false}, "axis": null}}},
      {"data": {"name": "gray"}, "mark": {"type": "rule", "color": "#8a8a8a", "strokeWidth": 2.2}, "encoding": {}},
      {"data": {"name": "textD"}, "mark": {"type": "text", "align": "left", "baseline": "middle", "fontSize": 27}, "encoding": {"y": {"field": "v", "type": "quantitative", "scale": {"domain": [0, 6], "nice": false}, "axis": null}, "text": {"field": "label"}}},
      {"data": {"name": "dummy"}, "mark": {"type": "point", "opacity": 0}, "encoding": {
        "x": {"field": "mz", "type": "quantitative", "scale": {"domain": [650, 660], "nice": false, "zero": false}, "axis": {"orient": "bottom", "values": [650, 652, 654, 656, 658, 660], "tickSize": -10, "labels": false, "title": null}},
        "y": {"field": "v", "type": "quantitative", "scale": {"domain": [0, 6], "nice": false}, "axis": {"orient": "left", "values": [0, 2, 4], "tickSize": -10, "labelPadding": 22, "title": null}}}},
      {"data": {"name": "dummy"}, "mark": {"type": "point", "opacity": 0}, "encoding": {
        "x": {"field": "mz", "type": "quantitative", "scale": {"domain": [650, 660], "nice": false, "zero": false}, "axis": {"orient": "bottom", "values": [651, 653, 655, 657, 659], "tickSize": -5, "labels": false, "title": null}},
        "y": {"field": "v", "type": "quantitative", "scale": {"domain": [0, 6], "nice": false}, "axis": {"orient": "left", "values": [1, 3, 5], "tickSize": -5, "labels": false, "title": null}}}},
      {"data": {"name": "dummy"}, "mark": {"type": "point", "opacity": 0}, "encoding": {
        "x": {"field": "mz", "type": "quantitative", "scale": {"domain": [650, 660], "nice": false, "zero": false}, "axis": {"orient": "top", "values": [650, 652, 654, 656, 658, 660], "tickSize": -10, "labels": false, "title": null}},
        "y": {"field": "v", "type": "quantitative", "scale": {"domain": [0, 6], "nice": false}, "axis": {"orient": "right", "values": [0, 2, 4, 6], "tickSize": -10, "labels": false, "title": null}}}},
      {"data": {"name": "dummy"}, "mark": {"type": "point", "opacity": 0}, "encoding": {
        "x": {"field": "mz", "type": "quantitative", "scale": {"domain": [650, 660], "nice": false, "zero": false}, "axis": {"orient": "top", "values": [651, 653, 655, 657, 659], "tickSize": -5, "labels": false, "title": null}},
        "y": {"field": "v", "type": "quantitative", "scale": {"domain": [0, 6], "nice": false}, "axis": {"orient": "right", "values": [1, 3, 5], "tickSize": -5, "labels": false, "title": null}}}}
    ]
  },
  {
    "width": 717, "height": 185,
    "resolve": {"axis": {"x": "independent", "y": "independent"}},
    "encoding": {"x": {"field": "mz", "type": "quantitative", "scale": {"domain": [650, 660], "nice": false, "zero": false}, "axis": null}},
    "layer": [
      {"data": {"name": "simE"}, "mark": {"type": "line", "interpolate": "monotone", "color": "#2b7a4b", "strokeWidth": 3.5}, "encoding": {"y": {"field": "v", "type": "quantitative", "scale": {"domain": [0, 6], "nice": false}, "axis": null}}},
      {"data": {"name": "gray"}, "mark": {"type": "rule", "color": "#8a8a8a", "strokeWidth": 2.2}, "encoding": {}},
      {"data": {"name": "textE"}, "mark": {"type": "text", "align": "left", "baseline": "middle", "fontSize": 27}, "encoding": {"y": {"field": "v", "type": "quantitative", "scale": {"domain": [0, 6], "nice": false}, "axis": null}, "text": {"field": "label"}}},
      {"data": {"name": "dummy"}, "mark": {"type": "point", "opacity": 0}, "encoding": {
        "x": {"field": "mz", "type": "quantitative", "scale": {"domain": [650, 660], "nice": false, "zero": false}, "axis": {"orient": "bottom", "values": [650, 652, 654, 656, 658, 660], "tickSize": -10, "labels": true, "labelPadding": 25, "title": "m/z", "titleFontSize": 30, "titleFontStyle": "italic", "titleBaseline": "alphabetic", "titleY": 81}},
        "y": {"field": "v", "type": "quantitative", "scale": {"domain": [0, 6], "nice": false}, "axis": {"orient": "left", "values": [0, 2, 4], "tickSize": -10, "labelPadding": 22, "title": null}}}},
      {"data": {"name": "dummy"}, "mark": {"type": "point", "opacity": 0}, "encoding": {
        "x": {"field": "mz", "type": "quantitative", "scale": {"domain": [650, 660], "nice": false, "zero": false}, "axis": {"orient": "bottom", "values": [651, 653, 655, 657, 659], "tickSize": -5, "labels": false, "title": null}},
        "y": {"field": "v", "type": "quantitative", "scale": {"domain": [0, 6], "nice": false}, "axis": {"orient": "left", "values": [1, 3, 5], "tickSize": -5, "labels": false, "title": null}}}},
      {"data": {"name": "dummy"}, "mark": {"type": "point", "opacity": 0}, "encoding": {
        "x": {"field": "mz", "type": "quantitative", "scale": {"domain": [650, 660], "nice": false, "zero": false}, "axis": {"orient": "top", "values": [650, 652, 654, 656, 658, 660], "tickSize": -10, "labels": false, "title": null}},
        "y": {"field": "v", "type": "quantitative", "scale": {"domain": [0, 6], "nice": false}, "axis": {"orient": "right", "values": [0, 2, 4, 6], "tickSize": -10, "labels": false, "title": null}}}},
      {"data": {"name": "dummy"}, "mark": {"type": "point", "opacity": 0}, "encoding": {
        "x": {"field": "mz", "type": "quantitative", "scale": {"domain": [650, 660], "nice": false, "zero": false}, "axis": {"orient": "top", "values": [651, 653, 655, 657, 659], "tickSize": -5, "labels": false, "title": null}},
        "y": {"field": "v", "type": "quantitative", "scale": {"domain": [0, 6], "nice": false}, "axis": {"orient": "right", "values": [1, 3, 5], "tickSize": -5, "labels": false, "title": null}}}}
    ]
  }
]
}
